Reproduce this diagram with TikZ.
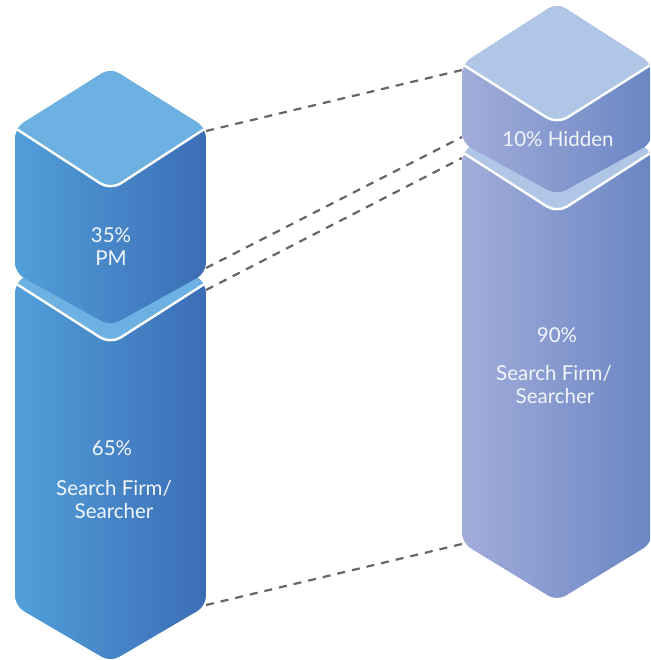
\documentclass[tikz,border=0pt]{standalone}
\usepackage{fontspec}
\setmainfont{Lato}
\definecolor{ltop}{HTML}{6CB1E1}
\definecolor{lfl}{HTML}{519FDA}
\definecolor{lfr}{HTML}{3C6DB5}
\definecolor{rtop}{HTML}{AFC6E7}
\definecolor{rfl}{HTML}{A2ADDA}
\definecolor{rfr}{HTML}{6A86C3}
\definecolor{dashc}{HTML}{666666}
\definecolor{txt}{HTML}{F2F5FB}
\begin{document}
\begin{tikzpicture}[x=1pt,y=-1pt,
  lfront/.style={left color=lfl, right color=lfr},
  rfront/.style={left color=rfl, right color=rfr},
  ltopface/.style={fill=ltop, draw=white, line width=2.4pt, rounded corners=12pt},
  rtopface/.style={fill=rtop, draw=white, line width=2.4pt, rounded corners=12pt},
  conn/.style={draw=dashc, line width=2.2pt, dash pattern=on 8pt off 7pt},
  lbl/.style={anchor=base, text=txt, font=\fontsize{20.5}{23}\selectfont, inner sep=0pt}]
\useasboundingbox (0,0) rectangle (650,660);
\clip (0,0) rectangle (650,660);
% anchor coordinates for connectors
\coordinate (Ptr) at (206,131);
\coordinate (Htl) at (462,70);
\coordinate (Pbr) at (206,268);
\coordinate (Hbl) at (462,137);
\coordinate (Btr) at (206,290);
\coordinate (Ntl) at (462,158);
\coordinate (Bbr) at (206,605);
\coordinate (Nbl) at (462,544);
% dashed connectors
\draw[conn] (Ptr) -- (Htl);
\draw[conn] (Pbr) -- (Hbl);
\draw[conn] (Btr) -- (Ntl);
\draw[conn] (Bbr) -- (Nbl);
% ---- left column: 65% block
\begin{scope}
\path[clip, rounded corners=10pt] (15,283) -- (110.5,223) -- (206,283) -- (206,606) -- (110.5,662) -- (15,606) -- cycle;
\path[lfront] (15,200) rectangle (206,662);
\path[ltopface] (5,276.6) -- (5,200) -- (216,200) -- (216,276.6) -- (110.5,344) -- cycle;
\end{scope}
% ---- left column: 35% PM block
\begin{scope}
\path[clip, rounded corners=10pt] (15,128) -- (110.5,68) -- (206,128) -- (206,273) -- (110.5,326) -- (15,273) -- cycle;
\path[lfront] (15,60) rectangle (206,330);
\path[ltopface] (5,121.5) -- (5,50) -- (216,50) -- (216,121.5) -- (110.5,190) -- cycle;
\end{scope}
% ---- right column: 90% block
\begin{scope}
\path[clip, rounded corners=10pt] (462,152) -- (557,92) -- (652,152) -- (652,543) -- (557,601) -- (462,543) -- cycle;
\path[rfront] (462,85) rectangle (652,605);
\path[rtopface] (452,145.6) -- (452,80) -- (662,80) -- (662,145.6) -- (557,213) -- cycle;
\end{scope}
% ---- right column: 10% hidden block
\begin{scope}
\path[clip, rounded corners=10pt] (462,64) -- (557,3) -- (652,64) -- (652,143) -- (557,195) -- (462,143) -- cycle;
\path[rfront] (462,0) rectangle (652,200);
\path[rtopface] (452,57.7) -- (452,-10) -- (662,-10) -- (662,57.7) -- (557,124) -- cycle;
\end{scope}
% labels
\node[lbl] (t35) at (111,242) {35\%};
\node[lbl] (tpm) at (111,265) {PM};
\node[lbl] (t65) at (112,455) {65\%};
\node[lbl] (tsf1) at (114,495) {Search Firm/};
\node[lbl] (tsr1) at (114,518) {Searcher};
\node[lbl] (thid) at (558,147) {10\% Hidden};
\node[lbl] (t90) at (557,342) {90\%};
\node[lbl] (tsf2) at (554,380) {Search Firm/};
\node[lbl] (tsr2) at (555,403) {Searcher};
\end{tikzpicture}
\end{document}
